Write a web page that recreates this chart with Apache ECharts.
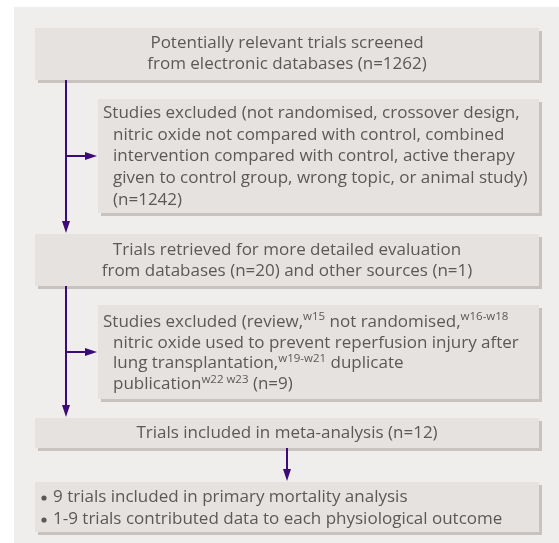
<!DOCTYPE html>
<html>
<head>
<meta charset="utf-8">
<script src="https://cdn.jsdelivr.net/npm/echarts@6/dist/echarts.min.js"></script>
<style>
  html, body { margin: 0; padding: 0; background: #fff; }
  #chart { width: 559px; height: 543px; }
</style>
</head>
<body>
<div id="chart"></div>
<script>
// counts shown in the flow diagram
const nScreened = 1262;
const nExcludedFirst = 1242;
const nFromDatabases = 20;
const nOtherSources = 1;
const nExcludedSecond = 9;
const nIncluded = 12;
const nMortality = 9;
const outcomeRange = '1-9';

// box texts (one entry per line)
const screenedLines = ['Potentially relevant trials screened', 'from electronic databases (n=' + nScreened + ')'];
const excludedFirstLines = [
  'Studies excluded (not randomised, crossover design,',
  'nitric oxide not compared with control, combined',
  'intervention compared with control, active therapy',
  'given to control group, wrong topic, or animal study)',
  '(n=' + nExcludedFirst + ')'
];
const retrievedLines = [
  'Trials retrieved for more detailed evaluation',
  'from databases (n=' + nFromDatabases + ') and other sources (n=' + nOtherSources + ')'
];
const excludedSecondLines = [
  'Studies excluded (review,{sup|w15} not randomised,{sup|w16-w18}',
  'nitric oxide used to prevent reperfusion injury after',
  'lung transplantation,{sup|w19-w21} duplicate',
  'publication{sup|w22 w23} (n=' + nExcludedSecond + ')'
];
const includedLines = ['Trials included in meta-analysis (n=' + nIncluded + ')'];
const outcomeBullets = [
  nMortality + ' trials included in primary mortality analysis',
  outcomeRange + ' trials contributed data to each physiological outcome'
];

// layout
const FONT = 'Open Sans';
const FS = 17;
const TEXT_COLOR = '#5b5957';
const BOX_FILL = '#e5e2df';
const SHADOW = '#c8c3bf';
const LINE = '#3b0b79';

const boxes = [
  { x: 35, y: 28, w: 504, h: 52, lines: screenedLines, align: 'center', top: 43 },
  { x: 98, y: 99, w: 441, h: 114, lines: excludedFirstLines, align: 'left', top: 113, step: 21.8 },
  { x: 35, y: 234, w: 504, h: 52, lines: retrievedLines, align: 'center', top: 250 },
  { x: 98, y: 305, w: 441, h: 94, lines: excludedSecondLines, align: 'left', top: 322, step: 20.8 },
  { x: 35, y: 418, w: 504, h: 30, lines: includedLines, align: 'center', top: 433 },
  { x: 35, y: 482, w: 504, h: 50, lines: outcomeBullets, align: 'bullet', top: 497, step: 22 }
];

const elements = [];
// background panel
elements.push({ type: 'rect', shape: { x: 14, y: 7, width: 545, height: 536 }, style: { fill: '#f0eeec' } });

boxes.forEach(function (b) {
  elements.push({ type: 'rect', shape: { x: b.x + 3, y: b.y + 3, width: b.w, height: b.h }, style: { fill: SHADOW } });
  elements.push({ type: 'rect', shape: { x: b.x, y: b.y, width: b.w, height: b.h }, style: { fill: BOX_FILL } });
  const step = b.step || 21.5;
  b.lines.forEach(function (line, i) {
    const y = b.top + i * step;
    let x, align = 'left';
    if (b.align === 'center') {
      x = b.x + b.w / 2;
      align = 'center';
    } else if (b.align === 'bullet') {
      // bullet dot
      elements.push({ type: 'circle', shape: { cx: 44, cy: y + 1, r: 2.6 }, style: { fill: TEXT_COLOR } });
      x = 53;
    } else {
      x = i === 0 ? 103 : 113;
    }
    elements.push({
      type: 'text',
      style: {
        x: x, y: y, text: line, fill: TEXT_COLOR, fontFamily: FONT, fontSize: FS,
        textAlign: align, textVerticalAlign: 'middle',
        rich: {
          sup: { fontSize: 11.5, fontFamily: FONT, fill: TEXT_COLOR, verticalAlign: 'top', lineHeight: 12 }
        },
        lineHeight: 22
      }
    });
  });
});

// connectors
function vline(x, y1, y2) {
  elements.push({ type: 'line', shape: { x1: x, y1: y1, x2: x, y2: y2 }, style: { stroke: LINE, lineWidth: 2 } });
}
function hline(x1, x2, y) {
  elements.push({ type: 'line', shape: { x1: x1, y1: y, x2: x2, y2: y }, style: { stroke: LINE, lineWidth: 2 } });
}
function arrowDown(x, tipY) {
  elements.push({ type: 'polygon', shape: { points: [[x - 4, tipY - 12], [x + 4, tipY - 12], [x, tipY]] }, style: { fill: LINE } });
}
function arrowRight(tipX, y) {
  elements.push({ type: 'polygon', shape: { points: [[tipX - 12, y - 4], [tipX - 12, y + 4], [tipX, y]] }, style: { fill: LINE } });
}

vline(66, 80, 222);
arrowDown(66, 233);
hline(66, 86, 156);
arrowRight(97, 156);
vline(66, 286, 406);
arrowDown(66, 417);
hline(66, 86, 352);
arrowRight(97, 352);
vline(287, 448, 470);
arrowDown(287, 481);

const chart = echarts.init(document.getElementById('chart'));
chart.setOption({
  animation: false,
  graphic: { elements: elements }
});
</script>
</body>
</html>
